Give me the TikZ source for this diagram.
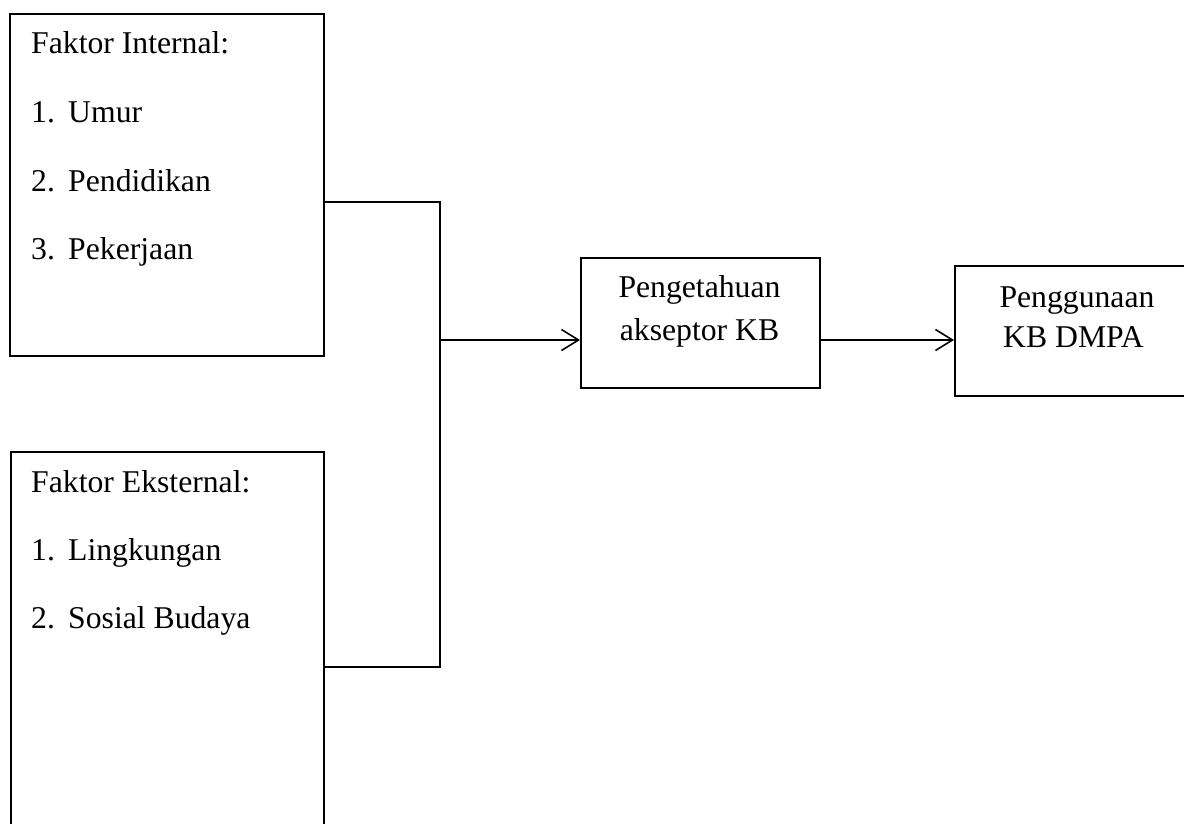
\documentclass[tikz,border=0pt]{standalone}
\usepackage{fontspec}
\setmainfont{Liberation Serif}
\usetikzlibrary{arrows.meta}
\begin{document}
\begin{tikzpicture}[x=1pt,y=-1pt,
  box/.style={draw,line width=2pt,inner sep=0pt,anchor=north west},
  conn/.style={line width=2pt},
  arr/.style={line width=2pt,-{Straight Barb[length=17pt,width=21pt,line width=1.6pt]}},
  txt/.style={inner sep=0pt,anchor=base west,font=\fontsize{31.7}{38}\selectfont},
  ctxt/.style={inner sep=0pt,anchor=base,font=\fontsize{31.7}{38}\selectfont}]
\useasboundingbox (0,0) rectangle (1184,823);
\fill[white] (0,0) rectangle (1184,823);
\clip (0,0) rectangle (1184,823);
% boxes
\node[box,minimum width=314pt,minimum height=342pt] (int) at (9,13) {};
\node[box,minimum width=313pt,minimum height=420pt] (ext) at (10,451) {};
\node[box,minimum width=239pt,minimum height=130pt] (pen) at (580,257) {};
\node[box,minimum width=260pt,minimum height=130pt] (dmpa) at (954,265) {};
% texts internal
\node[txt] (t1) at (31,53) {Faktor Internal:};
\node[txt] (t1a) at (31,122) {1.};
\node[txt] (t1b) at (68,122) {Umur};
\node[txt] (t2a) at (31,191) {2.};
\node[txt] (t2b) at (68,191) {Pendidikan};
\node[txt] (t3a) at (31,259) {3.};
\node[txt] (t3b) at (68,259) {Pekerjaan};
% texts external
\node[txt] (e0) at (31,492) {Faktor Eksternal:};
\node[txt] (e1a) at (31,560) {1.};
\node[txt] (e1b) at (68,560) {Lingkungan};
\node[txt] (e2a) at (31,628) {2.};
\node[txt] (e2b) at (68,628) {Sosial Budaya};
% texts right
\node[ctxt] (p1) at (699.5,297) {Pengetahuan};
\node[ctxt] (p2) at (699.5,340) {akseptor KB};
\node[ctxt] (d1) at (1077,307) {Penggunaan};
\node[ctxt] (d2) at (1073.5,347) {KB DMPA};
% connectors
\coordinate (j1) at (440,202);
\coordinate (j2) at (440,667);
\coordinate (jm) at (440,340);
\draw[conn] (int.east |- j1) -- (j1) -- (j2) -- (ext.east |- j2);
\draw[arr] (jm) -- (pen.west |- jm);
\draw[arr] (pen.east |- jm) -- (dmpa.west |- jm);
\end{tikzpicture}
\end{document}
